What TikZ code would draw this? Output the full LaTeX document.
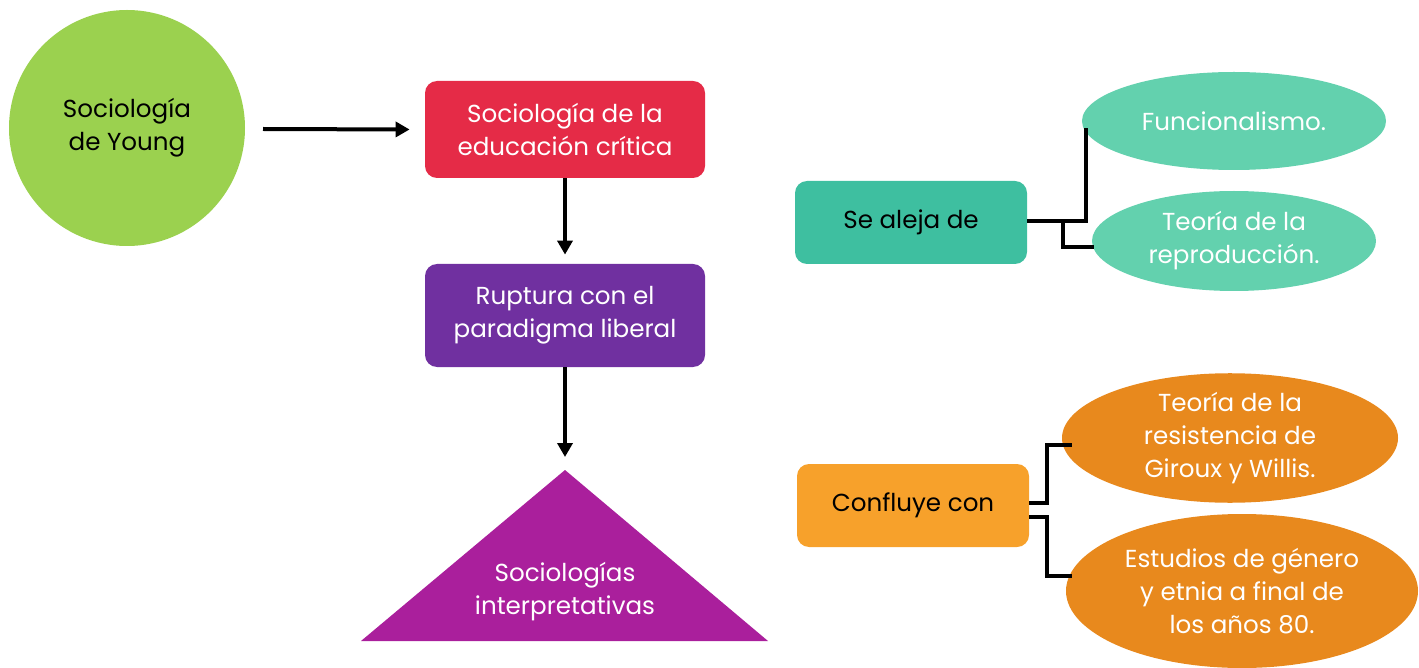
\documentclass[tikz,border=0pt]{standalone}
\usepackage{fontspec}
\setmainfont{Poppins}
\usetikzlibrary{shapes.geometric,arrows.meta,calc}
\definecolor{cgreen}{HTML}{9BD14F}
\definecolor{cred}{HTML}{E52B47}
\definecolor{cpurple}{HTML}{7030A0}
\definecolor{cmag}{HTML}{AA1F9C}
\definecolor{cteal}{HTML}{3EBFA0}
\definecolor{clteal}{HTML}{63D1AE}
\definecolor{corange}{HTML}{F7A12B}
\definecolor{cdorange}{HTML}{E8891D}
\begin{document}
\begin{tikzpicture}[x=0.5pt,y=-0.5pt,
  txt/.style={font=\fontsize{12.3}{16.5}\selectfont, align=center},
  boxn/.style={txt, rounded corners=6pt, minimum width=140pt, inner sep=0pt},
  ell/.style={txt, ellipse, inner sep=0pt, text=white},
  conn/.style={line width=2pt},
  arr/.style={line width=2pt, -{Triangle[length=7pt,width=7.5pt]}}]
\useasboundingbox (0,0) rectangle (1419,668);
\node[txt, circle, fill=cgreen, minimum size=118pt, inner sep=0pt] (young) at (127,128) {Sociología\\de Young};
\node[boxn, fill=cred, text=white, minimum height=48.5pt] (crit) at (565,129.5) {Sociología de la\\educación crítica};
\node[boxn, fill=cpurple, text=white, minimum height=51.5pt] (rup) at (565,315.5) {Ruptura con el\\paradigma liberal};
\coordinate (tapex) at (565,470);
\coordinate (tl) at (361,641);
\coordinate (tr) at (768,641);
\fill[cmag] (tapex) -- (tr) -- (tl) -- cycle;
\node[txt, text=white] (interp) at (565,592) {Sociologías\\interpretativas};
\draw[arr] (263,129) -- ($(crit.west)+(-15,0)$);
\draw[arr] (crit.south) -- ($(rup.north)+(0,-9)$);
\draw[arr] (rup.south) -- ($(tapex)+(0,-13)$);
\node[boxn, fill=cteal, minimum width=116pt, minimum height=41.5pt] (aleja) at (911,222.5) {Se aleja de};
\node[ell, fill=clteal, minimum width=152pt, minimum height=49pt] (func) at (1234,121) {Funcionalismo.};
\node[ell, fill=clteal, minimum width=142pt, minimum height=50pt] (repr) at (1234,241) {Teoría de la\\reproducción.};
\node[boxn, fill=corange, minimum width=116pt, minimum height=41.5pt] (conf) at (913,505.5) {Confluye con};
\node[ell, fill=cdorange, minimum width=168pt, minimum height=58pt] (resis) at (1230,438) {Teoría de la\\resistencia de\\Giroux y Willis.};
\node[ell, fill=cdorange, minimum width=176pt, minimum height=77pt] (estu) at (1242,591) {Estudios de género\\y etnia a final de\\los años 80.};
\coordinate (j1) at (1086,128);
\coordinate (j2) at (1063,221);
\coordinate (j2e) at (1094,247);
\draw[conn] (aleja.east |- j2) -| (j1);
\draw[conn] (j2) |- (j2e);
\coordinate (k1) at (1047,503);
\coordinate (k1e) at (1072,445);
\coordinate (k2) at (1047,517);
\coordinate (k2e) at (1072,576);
\draw[conn] (conf.east |- k1) -- (k1) |- (k1e);
\draw[conn] (conf.east |- k2) -- (k2) |- (k2e);
\end{tikzpicture}
\end{document}
